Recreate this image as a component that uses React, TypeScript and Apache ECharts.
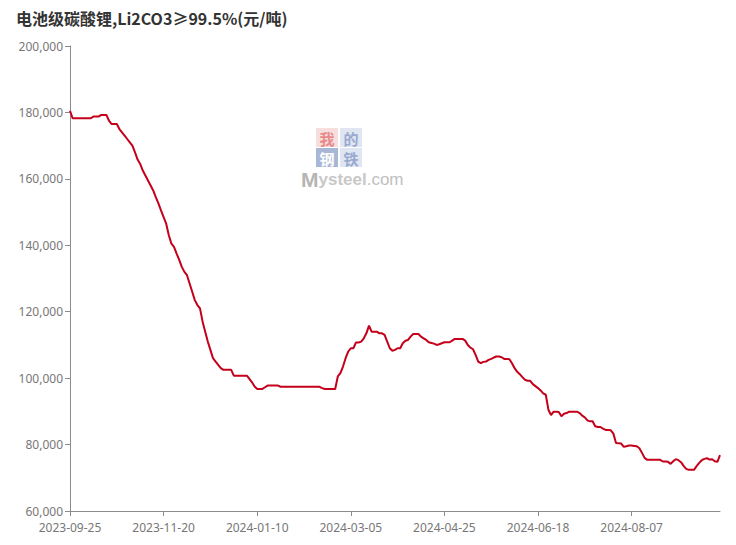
import React, { useEffect, useRef } from "react";
import * as echarts from "echarts";

const TITLE = "电池级碳酸锂,Li2CO3≥99.5%(元/吨)";
const START_DATE = "2023-09-25";
const END_DATE = "2024-09-25";
const HOLIDAYS = [
  "2023-09-29", "2023-10-02", "2023-10-03", "2023-10-04", "2023-10-05", "2023-10-06",
  "2024-01-01", "2024-02-12", "2024-02-13", "2024-02-14", "2024-02-15", "2024-02-16",
  "2024-04-04", "2024-04-05", "2024-05-01", "2024-05-02", "2024-05-03", "2024-06-10",
  "2024-09-16", "2024-09-17",
];
const MAKEUP_DAYS = [
  "2023-10-07", "2023-10-08", "2024-02-04", "2024-02-18", "2024-04-07", "2024-04-28",
  "2024-05-11", "2024-09-14",
];
const Y_TICKS = [60000, 80000, 100000, 120000, 140000, 160000, 180000, 200000];

const PRICES = [
  180500, 178250, 178250, 178250, 178250, 178250, 178250, 178250, 178250, 178750,
  178750, 178750, 179250, 179250, 179250, 177500, 176500, 176500, 176500, 175000,
  174000, 173000, 172000, 171000, 170000, 168000, 165800, 164500, 162500, 161000,
  159500, 158000, 156500, 154500, 152600, 150500, 148500, 146500, 143000, 140500,
  139500, 137500, 135600, 133500, 132000, 131000, 128500, 126000, 123500, 122000,
  121000, 117000, 114000, 111000, 108500, 106000, 105000, 104000, 103000, 102500,
  102500, 102500, 102500, 100750, 100750, 100750, 100750, 100750, 100750, 99750,
  98750, 97500, 96750, 96750, 96750, 97250, 97750, 97750, 97750, 97750,
  97750, 97400, 97400, 97400, 97400, 97400, 97400, 97400, 97400, 97400,
  97400, 97400, 97400, 97400, 97400, 97400, 97400, 97000, 96750, 96750,
  96750, 96750, 96750, 100500, 101500, 103500, 106000, 108000, 109000, 109000,
  110750, 110750, 111000, 112000, 113500, 115800, 114000, 114000, 114000, 113500,
  113500, 113000, 111000, 109000, 108250, 108500, 109000, 109000, 110500, 111250,
  111500, 112500, 113300, 113300, 113300, 112500, 112000, 111500, 110800, 110600,
  110400, 110000, 110200, 110500, 110800, 110800, 110800, 111300, 111800, 111800,
  111800, 111800, 111300, 110000, 109200, 108700, 107000, 105000, 104500, 104900,
  105000, 105500, 105800, 106200, 106500, 106500, 106300, 105800, 105800, 105700,
  104500, 103000, 101900, 101200, 100300, 99500, 99200, 99200, 98200, 97600,
  97000, 96300, 95400, 95000, 90500, 88900, 89900, 89900, 89800, 88500,
  89300, 89500, 89900, 89900, 89900, 89900, 89500, 88700, 88200, 87300,
  87000, 87000, 85500, 85300, 85300, 84800, 84400, 84400, 84300, 83300,
  80500, 80400, 80300, 79300, 79500, 79700, 79700, 79600, 79500, 78900,
  77500, 76000, 75400, 75400, 75400, 75400, 75400, 75400, 74900, 74900,
  74800, 74200, 75000, 75600, 75300, 74700, 73600, 72700, 72400, 72400,
  72400, 73500, 74500, 75300, 75700, 75900, 75500, 75600, 75000, 74800,
  76800,
];

function fmt(d: Date): string {
  const m = String(d.getUTCMonth() + 1).padStart(2, "0");
  const day = String(d.getUTCDate()).padStart(2, "0");
  return `${d.getUTCFullYear()}-${m}-${day}`;
}

function buildDates(): string[] {
  const out: string[] = [];
  const d = new Date(START_DATE + "T00:00:00Z");
  const end = new Date(END_DATE + "T00:00:00Z");
  while (d.getTime() <= end.getTime()) {
    const s = fmt(d);
    const wd = d.getUTCDay();
    const isWeekend = wd === 0 || wd === 6;
    if ((!isWeekend && !HOLIDAYS.includes(s)) || MAKEUP_DAYS.includes(s)) out.push(s);
    d.setUTCDate(d.getUTCDate() + 1);
  }
  return out;
}

const DATES = buildDates();

export default function App() {
  const ref = useRef<HTMLDivElement>(null);
  useEffect(() => {
    if (!ref.current) return;
    const chart = echarts.init(ref.current, null, { renderer: "svg" });
    const axisGray = "#8c8c8c";
    const labelGray = "#777";
    const charFont = "bold 15px 'Noto Sans CJK SC'";
    chart.setOption({
      animation: false,
      backgroundColor: "#fff",
      title: {
        text: TITLE,
        left: 11,
        top: 5,
        textStyle: {
          fontFamily: "Noto Sans CJK SC",
          fontSize: 16,
          fontWeight: "bold",
          color: "#333",
        },
      },
      grid: { left: 70, right: 16, top: 46, bottom: 34 },
      xAxis: {
        type: "category",
        data: DATES,
        boundaryGap: false,
        axisLine: { lineStyle: { color: axisGray } },
        axisTick: { show: true, interval: 35, length: 5, lineStyle: { color: axisGray } },
        axisLabel: {
          interval: 35,
          color: labelGray,
          fontSize: 12,
          fontFamily: "Noto Sans",
          margin: 10,
        },
        splitLine: { show: false },
      },
      yAxis: {
        type: "value",
        min: Y_TICKS[0],
        max: Y_TICKS[Y_TICKS.length - 1],
        interval: Y_TICKS[1] - Y_TICKS[0],
        axisLine: { show: true, lineStyle: { color: axisGray } },
        axisTick: { show: true, length: 5, lineStyle: { color: axisGray } },
        axisLabel: {
          color: labelGray,
          fontSize: 12,
          fontFamily: "Noto Sans",
          margin: 7,
          formatter: (v: number) => v.toLocaleString("en-US"),
        },
        splitLine: { show: false },
      },
      graphic: [
        {
          type: "group",
          left: 301,
          top: 128,
          silent: true,
          children: [
            { type: "rect", shape: { x: 15, y: 0, width: 22, height: 19 }, style: { fill: "#f6dede" } },
            { type: "rect", shape: { x: 39, y: 0, width: 22, height: 19 }, style: { fill: "#dfe5f1" } },
            { type: "rect", shape: { x: 15, y: 20, width: 22, height: 19 }, style: { fill: "#a9b7d6" } },
            { type: "rect", shape: { x: 39, y: 20, width: 22, height: 19 }, style: { fill: "#dfe5f1" } },
            { type: "text", x: 26, y: 10, style: { text: "我", fill: "#e88a8a", font: charFont, align: "center", verticalAlign: "middle" } },
            { type: "text", x: 50, y: 10, style: { text: "的", fill: "#98a9cf", font: charFont, align: "center", verticalAlign: "middle" } },
            { type: "text", x: 26, y: 30, style: { text: "钢", fill: "#ffffff", font: charFont, align: "center", verticalAlign: "middle" } },
            { type: "text", x: 50, y: 30, style: { text: "铁", fill: "#98a9cf", font: charFont, align: "center", verticalAlign: "middle" } },
            {
              type: "text",
              x: 0,
              y: 41,
              style: {
                text: "{m|M}{s|ysteel}{c|.com}",
                rich: {
                  m: { fill: "#b5b5b5", font: "bold 21px Arial, 'Liberation Sans'" },
                  s: { fill: "#c8c8c8", font: "bold 17px Arial, 'Liberation Sans'" },
                  c: { fill: "#c0c0c0", font: "17px Arial, 'Liberation Sans'" },
                },
              },
            },
          ],
        },
      ],
      series: [
        {
          type: "line",
          data: PRICES,
          showSymbol: false,
          symbol: "none",
          lineStyle: { color: "#c4001a", width: 2 },
          itemStyle: { color: "#c4001a" },
        },
      ],
    });
    return () => chart.dispose();
  }, []);
  return (
    <div
      ref={ref}
      style={{ position: "fixed", left: 0, top: 0, width: 736, height: 545 }}
    />
  );
}
